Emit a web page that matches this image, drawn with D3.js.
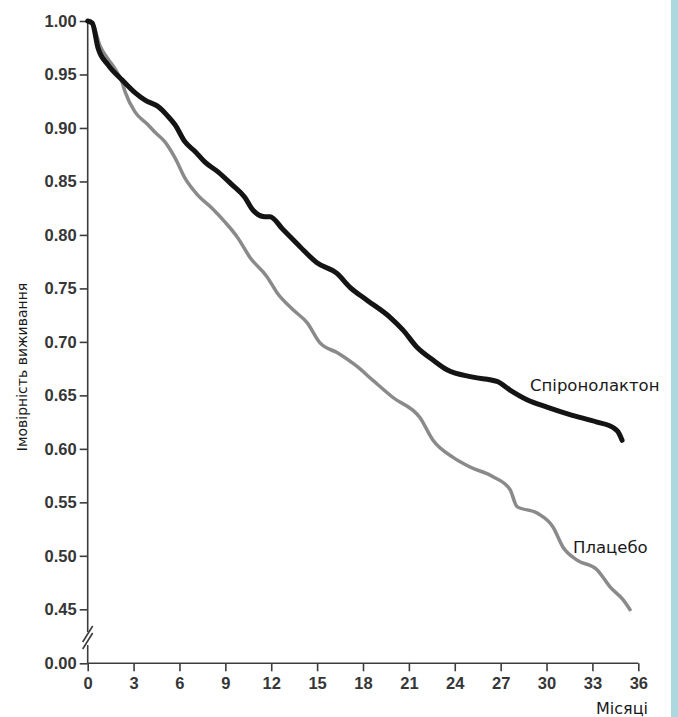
<!DOCTYPE html>
<html>
<head>
<meta charset="utf-8">
<script src="https://cdn.jsdelivr.net/npm/d3@7"></script>
<style>
  body { margin: 0; background: #fff; }
  .tick text { font-family: "Liberation Sans", Arial, sans-serif; font-weight: bold; font-size: 16.5px; fill: #363636; }
  .lbl { font-family: "DejaVu Sans", "Noto Sans", sans-serif; fill: #1a1a1a; }
</style>
</head>
<body>
<div class="canvas"></div>
<script>
const dims = { width: 678, height: 717 };

// ticks
const xTicks = [0, 3, 6, 9, 12, 15, 18, 21, 24, 27, 30, 33, 36];
const yTicks = [0, 0.45, 0.5, 0.55, 0.6, 0.65, 0.7, 0.75, 0.8, 0.85, 0.9, 0.95, 1.0];

// Спіронолактон
const spiroMonths = [0, 0.3, 0.67, 1.33, 2.24, 3.09, 3.75, 4.6, 5.18, 5.71, 6.36, 7.02, 7.67, 8.52, 9.43, 10.28, 10.81, 11.59, 11.92, 12.77, 13.88, 14.99, 16.3, 17.15, 18.26, 19.77, 20.62, 21.53, 22.58, 23.49, 25.19, 26.76, 27.61, 28.72, 30.03, 31.53, 33.3, 34.35, 34.67, 34.94];
const spiroSurv = [1.0, 0.998, 0.975, 0.959, 0.945, 0.933, 0.926, 0.92, 0.912, 0.903, 0.887, 0.878, 0.868, 0.859, 0.847, 0.835, 0.823, 0.817, 0.817, 0.805, 0.789, 0.774, 0.764, 0.751, 0.739, 0.723, 0.711, 0.695, 0.683, 0.674, 0.667, 0.663, 0.655, 0.646, 0.639, 0.632, 0.625, 0.62, 0.616, 0.608];

// Плацебо
const placeboMonths = [0, 0.3, 0.8, 1.3, 1.8, 2.24, 2.44, 3.09, 3.94, 4.4, 5.05, 5.71, 6.36, 7.21, 8.13, 8.98, 9.83, 10.61, 11.72, 12.38, 13.43, 14.34, 15.19, 16.3, 17.61, 18.65, 19.96, 21.73, 22.58, 23.89, 25.0, 26.5, 27.61, 28.07, 29.38, 30.42, 31.08, 32.0, 33.3, 34.15, 35.0, 35.46];
const placeboSurv = [1.0, 0.998, 0.977, 0.965, 0.955, 0.943, 0.934, 0.915, 0.903, 0.896, 0.887, 0.872, 0.853, 0.837, 0.825, 0.812, 0.797, 0.779, 0.761, 0.746, 0.73, 0.718, 0.699, 0.69, 0.677, 0.664, 0.648, 0.629, 0.608, 0.592, 0.583, 0.574, 0.562, 0.546, 0.54, 0.527, 0.508, 0.496, 0.487, 0.471, 0.459, 0.447];

const svg = d3.select('.canvas')
  .append('svg')
  .attr('width', dims.width)
  .attr('height', dims.height);

// teal strip on the right edge
svg.append('rect')
  .attr('x', 671).attr('y', 0)
  .attr('width', 7).attr('height', dims.height)
  .attr('fill', '#acd8df');

const x = d3.scaleLinear().domain([0, 36]).range([87.7, 638.3]);
// broken axis: 0 sits below the 0.45 tick
const y = d3.scaleLinear().domain([0, 0.45, 1.0]).range([663.3, 609.3, 21]);

const xAxis = d3.axisBottom(x)
  .tickValues(xTicks)
  .tickSize(8)
  .tickPadding(6)
  .tickFormat(d3.format('d'));

const yAxis = d3.axisLeft(y)
  .tickValues(yTicks)
  .tickSize(8)
  .tickPadding(3)
  .tickFormat(d3.format('.2f'));

const gx = svg.append('g')
  .attr('transform', `translate(0, ${y(0)})`)
  .call(xAxis);

const gy = svg.append('g')
  .attr('transform', `translate(${x(0)}, 0)`)
  .call(yAxis);

[gx, gy].forEach(g => {
  g.select('.domain').attr('stroke', '#3c3c3c').attr('stroke-width', 1.6);
  g.selectAll('.tick line').attr('stroke', '#3c3c3c').attr('stroke-width', 1.6);
});
gx.select('.domain').attr('d', `M${x(0)},0H${x(36)}`);
gy.select('.domain').attr('d', `M0,${y(1)}V${y(0)}`);

// axis break
const bx = x(0);
svg.append('rect')
  .attr('x', bx - 4).attr('y', 632)
  .attr('width', 8).attr('height', 13)
  .attr('fill', '#fff');
[634, 641].forEach(cy => {
  svg.append('line')
    .attr('x1', bx - 5).attr('y1', cy + 8)
    .attr('x2', bx + 5).attr('y2', cy - 8)
    .attr('stroke', '#3c3c3c').attr('stroke-width', 1.6);
});

const line = d3.line()
  .curve(d3.curveMonotoneX)
  .x(d => x(d[0]))
  .y(d => y(d[1]));

svg.append('path')
  .datum(d3.zip(placeboMonths, placeboSurv))
  .attr('d', line)
  .attr('fill', 'none')
  .attr('stroke', '#8a8a8a')
  .attr('stroke-width', 3.5)
  .attr('stroke-linejoin', 'round')
  .attr('stroke-linecap', 'round');

svg.append('path')
  .datum(d3.zip(spiroMonths, spiroSurv))
  .attr('d', line)
  .attr('fill', 'none')
  .attr('stroke', '#141414')
  .attr('stroke-width', 5)
  .attr('stroke-linejoin', 'round')
  .attr('stroke-linecap', 'round');

// labels
svg.append('text').attr('class', 'lbl')
  .attr('x', 530).attr('y', 391)
  .attr('font-size', 16.5)
  .text('Спіронолактон');

svg.append('text').attr('class', 'lbl')
  .attr('x', 573).attr('y', 553)
  .attr('font-size', 16.5)
  .text('Плацебо');

svg.append('text').attr('class', 'lbl')
  .attr('x', 648).attr('y', 714)
  .attr('text-anchor', 'end')
  .attr('font-size', 16)
  .text('Місяці');

svg.append('text').attr('class', 'lbl')
  .attr('transform', 'translate(27, 367) rotate(-90)')
  .attr('text-anchor', 'middle')
  .attr('font-size', 14)
  .text('Імовірність виживання');
</script>
</body>
</html>
